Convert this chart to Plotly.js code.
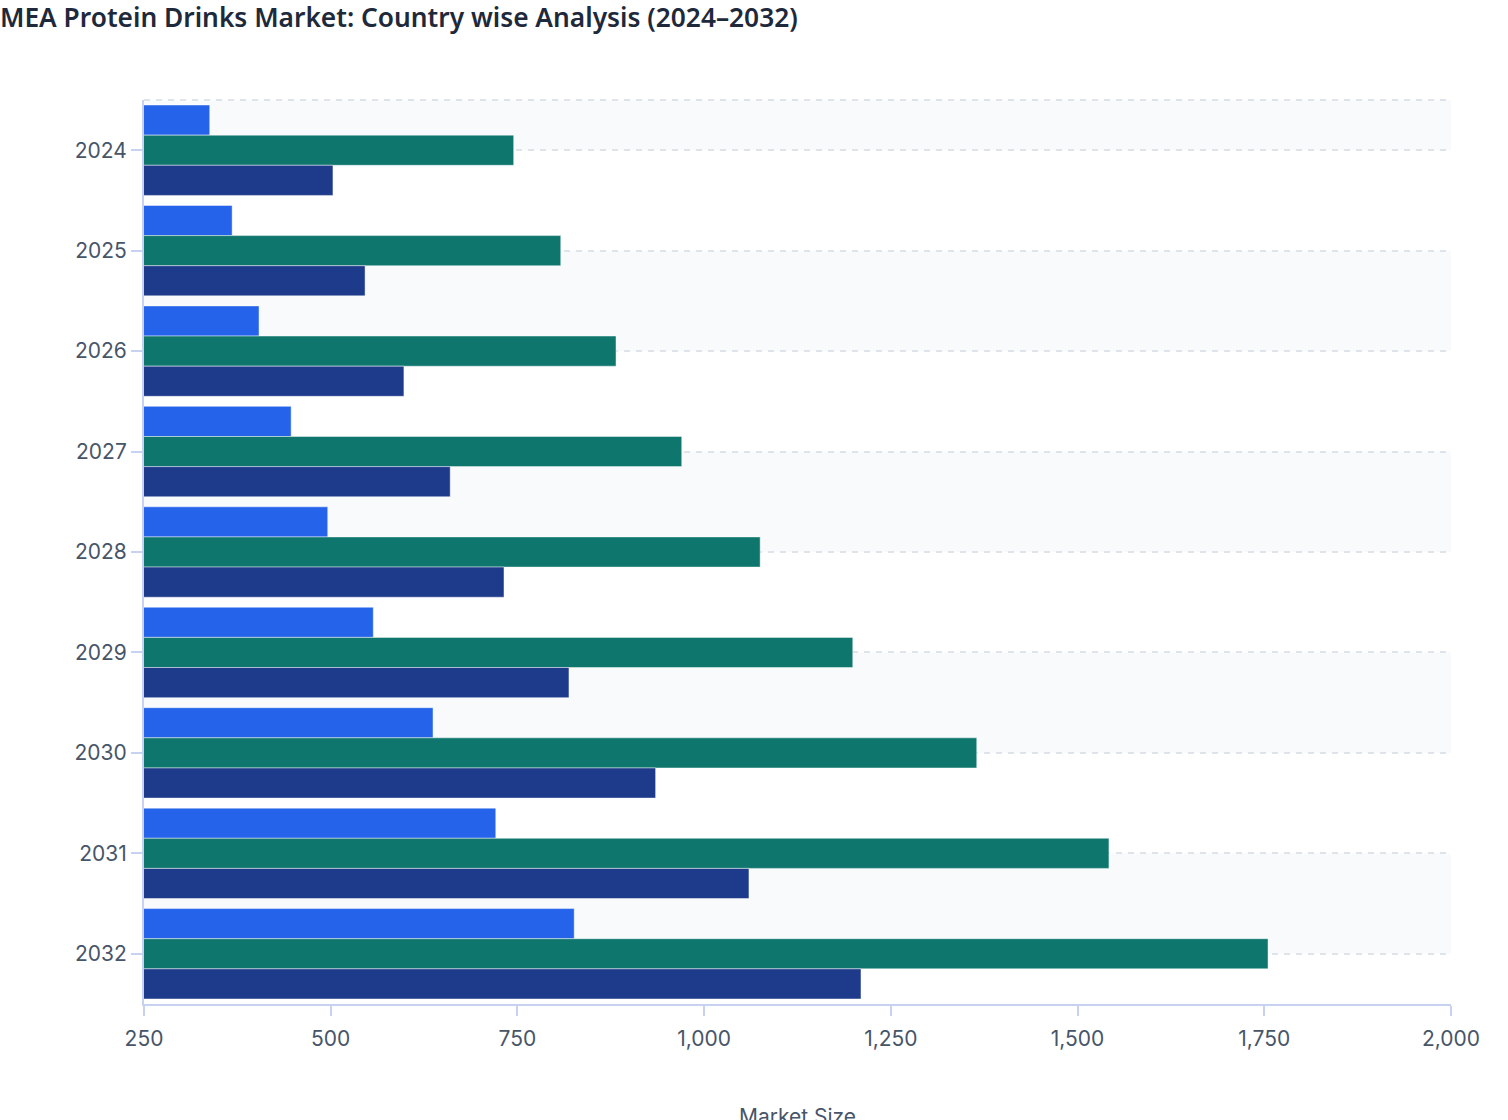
<!DOCTYPE html>
<html>
<head>
<meta charset="utf-8">
<script src="https://cdn.plot.ly/plotly-3.0.1.min.js"></script>
<style>
  html, body { margin: 0; padding: 0; background: #fff; overflow: hidden; }
  #plot { width: 1508px; height: 1150px; }
</style>
</head>
<body>
<div id="plot"></div>
<script>
// years shown top to bottom
var years = ['2024', '2025', '2026', '2027', '2028', '2029', '2030', '2031', '2032'];

// market size per country
var seriesA = [338, 368, 404, 447, 496, 557, 637, 721, 826];
var seriesB = [745, 808, 882, 970, 1075, 1199, 1365, 1542, 1755];
var seriesC = [503, 546, 598, 660, 732, 819, 935, 1060, 1210];

var seriesNames = ['UAE', 'Saudi Arabia', 'South Africa'];
var seriesColors = ['#2563eb', '#0f766e', '#1e3a8a'];

var xTicks = [250, 500, 750, 1000, 1250, 1500, 1750, 2000];

function makeTrace(vals, i) {
  return {
    type: 'bar',
    orientation: 'h',
    y: years,
    x: vals,
    name: seriesNames[i],
    marker: {
      color: seriesColors[i],
      line: { color: 'rgba(255,255,255,0.45)', width: 1 }
    },
    hovertemplate: '%{y}: %{x}<extra>' + seriesNames[i] + '</extra>'
  };
}

var data = [seriesA, seriesB, seriesC].map(makeTrace);

// alternating light bands, plus the dashed line along the top edge
var shapes = [{
  type: 'rect', layer: 'below', xref: 'paper', x0: 0, x1: 1,
  yref: 'y', y0: -0.5, y1: 0,
  fillcolor: '#f8fafc', line: { width: 0 }
}];
for (var i = 1; i < years.length - 1; i += 2) {
  shapes.push({
    type: 'rect', layer: 'below', xref: 'paper', x0: 0, x1: 1,
    yref: 'y', y0: i, y1: i + 1,
    fillcolor: '#f8fafc', line: { width: 0 }
  });
}
shapes.push({
  type: 'line', layer: 'below', xref: 'paper', x0: 0, x1: 1,
  yref: 'paper', y0: 1, y1: 1,
  line: { color: '#dfe4eb', width: 2, dash: '6px,6px' }
});

// the figure runs a bit past the bottom of the window, like the original
var layout = {
  width: 1508,
  height: 1150,
  margin: { l: 144, r: 57, t: 100, b: 146 },
  paper_bgcolor: '#ffffff',
  plot_bgcolor: '#ffffff',
  showlegend: false,
  barmode: 'group',
  bargap: 0.1,
  bargroupgap: 0,
  font: { family: 'Inter, sans-serif', color: '#475569', size: 21 },
  title: {
    text: 'MEA Protein Drinks Market: Country wise Analysis (2024–2032)',
    font: { family: '"Noto Sans", sans-serif', size: 26.3, color: '#1e293b', weight: 600 },
    xref: 'container', x: 0, xanchor: 'left',
    yref: 'container', y: 1 - 18 / 1150, yanchor: 'middle'
  },
  xaxis: {
    range: [250, 2000],
    tickvals: xTicks,
    tickformat: ',d',
    showgrid: false,
    zeroline: false,
    showline: true,
    linecolor: '#c7d2f0',
    linewidth: 2,
    ticks: 'outside',
    ticklen: 10,
    tickwidth: 2,
    tickcolor: '#c7d2f0',
    ticklabelstandoff: 5,
    tickfont: { size: 21, color: '#475569' },
    title: { text: 'Market Size', standoff: 59, font: { size: 21, color: '#475569' } }
  },
  yaxis: {
    type: 'category',
    autorange: 'reversed',
    showgrid: true,
    gridcolor: '#dfe4eb',
    gridwidth: 2,
    griddash: '6px,6px',
    zeroline: false,
    showline: true,
    linecolor: '#c7d2f0',
    linewidth: 2,
    ticks: 'outside',
    ticklen: 11,
    tickwidth: 2,
    tickcolor: '#c7d2f0',
    tickfont: { size: 21, color: '#475569' }
  },
  shapes: shapes
};

Plotly.newPlot('plot', data, layout, { displayModeBar: false, staticPlot: true });
</script>
</body>
</html>
